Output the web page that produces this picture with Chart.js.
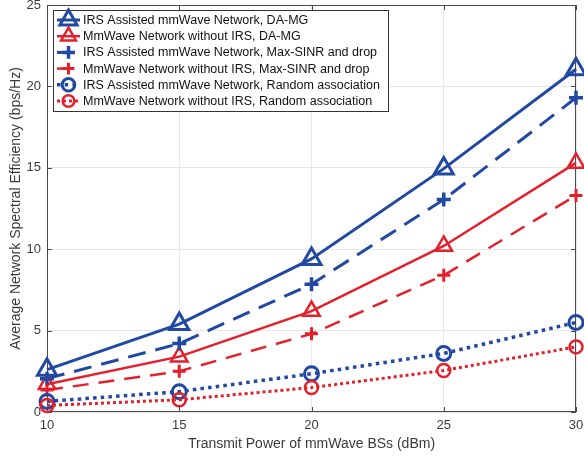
<!DOCTYPE html>
<html>
<head>
<meta charset="utf-8">
<script src="https://cdn.jsdelivr.net/npm/chart.js@4.4.0/dist/chart.umd.min.js"></script>
<style>
html,body{margin:0;padding:0;background:#fff;}
#wrap{width:584px;height:457px;position:relative;}
</style>
</head>
<body>
<div id="wrap"><canvas id="c" width="584" height="457"></canvas></div>
<script>
const powers = [10, 15, 20, 25, 30];
const xTicks = [10, 15, 20, 25, 30];
const yTicks = [0, 5, 10, 15, 20, 25];
const irsDAMG = [2.6, 5.4, 9.4, 14.95, 21.05];
const noIrsDAMG = [1.7, 3.4, 6.2, 10.2, 15.3];
const irsMaxSinr = [2.05, 4.2, 7.85, 13.05, 19.3];
const noIrsMaxSinr = [1.35, 2.5, 4.8, 8.4, 13.3];
const irsRandom = [0.65, 1.25, 2.35, 3.6, 5.5];
const noIrsRandom = [0.4, 0.75, 1.5, 2.55, 4.0];
const seriesLabels = [
  'IRS Assisted mmWave Network, DA-MG',
  'MmWave Network without IRS, DA-MG',
  'IRS Assisted mmWave Network, Max-SINR and drop',
  'MmWave Network without IRS, Max-SINR and drop',
  'IRS Assisted mmWave Network, Random association',
  'MmWave Network without IRS, Random association'
];

const BLUE = '#2148a3';
const RED = '#e3202b';
const FONT = "'Liberation Sans', Arial, Helvetica, sans-serif";

function pts(arr){ return arr.map((v,i)=>({x: powers[i], y: v})); }

const styles = [
  {data: irsDAMG, color: BLUE, lw: 3, dash: [], marker: 'triangle', r: 11, mlw: 3},
  {data: noIrsDAMG, color: RED, lw: 2.5, dash: [], marker: 'triangle', r: 9.5, mlw: 2.5},
  {data: irsMaxSinr, color: BLUE, lw: 3, dash: [18, 10], marker: 'cross', r: 7, mlw: 3.5},
  {data: noIrsMaxSinr, color: RED, lw: 2.5, dash: [16, 10], marker: 'cross', r: 6.5, mlw: 3},
  {data: irsRandom, color: BLUE, lw: 3.5, dash: [3.5, 4.2], marker: 'circle', r: 7, mlw: 3},
  {data: noIrsRandom, color: RED, lw: 3, dash: [3, 3], marker: 'circle', r: 6.5, mlw: 2.5}
];

const datasets = styles.map((s, i) => ({
  label: seriesLabels[i],
  data: pts(s.data),
  borderColor: s.color,
  borderWidth: s.lw,
  borderDash: s.dash,
  pointStyle: s.marker,
  pointRadius: s.r,
  pointHoverRadius: s.r,
  pointBorderWidth: s.mlw,
  pointBorderColor: s.color,
  pointBackgroundColor: 'rgba(0,0,0,0)',
  fill: false,
  tension: 0,
  clip: false,
  order: 6 - i
}));

function drawMarker(ctx, style, x, y, r) {
  ctx.beginPath();
  if (style === 'triangle') {
    let rad = 0;
    ctx.moveTo(x + Math.sin(rad) * r, y - Math.cos(rad) * r);
    rad += 2 * Math.PI / 3;
    ctx.lineTo(x + Math.sin(rad) * r, y - Math.cos(rad) * r);
    rad += 2 * Math.PI / 3;
    ctx.lineTo(x + Math.sin(rad) * r, y - Math.cos(rad) * r);
    ctx.closePath();
  } else if (style === 'cross') {
    ctx.moveTo(x - r, y); ctx.lineTo(x + r, y);
    ctx.moveTo(x, y - r); ctx.lineTo(x, y + r);
  } else {
    ctx.arc(x, y, r, 0, Math.PI * 2);
  }
  ctx.stroke();
}

const framePlugin = {
  id: 'frame',
  beforeDatasetsDraw(chart) {
    const ctx = chart.ctx, a = chart.chartArea;
    const xs = chart.scales.x, ys = chart.scales.y;
    ctx.save();
    ctx.strokeStyle = '#4a4a4a';
    ctx.lineWidth = 1;
    ctx.setLineDash([]);
    ctx.strokeRect(a.left + 0.5, a.top + 0.5, a.right - a.left - 1, a.bottom - a.top - 1);
    const tl = 5;
    ctx.beginPath();
    xTicks.forEach(v => {
      const px = Math.round(xs.getPixelForValue(v)) + 0.5;
      ctx.moveTo(px, a.bottom); ctx.lineTo(px, a.bottom - tl);
      ctx.moveTo(px, a.top); ctx.lineTo(px, a.top + tl);
    });
    yTicks.forEach(v => {
      const py = Math.round(ys.getPixelForValue(v)) + 0.5;
      ctx.moveTo(a.left, py); ctx.lineTo(a.left + tl, py);
      ctx.moveTo(a.right, py); ctx.lineTo(a.right - tl, py);
    });
    ctx.stroke();
    ctx.restore();
  },
  afterDraw(chart) {
    const ctx = chart.ctx;
    const bx = 53.5, by = 10.5, bw = 335, bh = 101;
    ctx.save();
    ctx.fillStyle = '#ffffff';
    ctx.fillRect(bx, by, bw, bh);
    ctx.strokeStyle = '#333333';
    ctx.lineWidth = 1;
    ctx.setLineDash([]);
    ctx.strokeRect(bx, by, bw, bh);
    const rowH = 16.2;
    ctx.font = '12.5px ' + FONT;
    ctx.textBaseline = 'middle';
    ctx.textAlign = 'left';
    chart.data.datasets.forEach((ds, i) => {
      const s = styles[i];
      const cy = by + 9.5 + i * rowH;
      ctx.strokeStyle = s.color;
      ctx.lineWidth = s.lw;
      ctx.setLineDash(s.dash);
      ctx.beginPath();
      ctx.moveTo(57, cy); ctx.lineTo(80, cy);
      ctx.stroke();
      ctx.setLineDash([]);
      ctx.lineWidth = s.mlw;
      drawMarker(ctx, s.marker, 68.5, cy, s.r * 0.9);
      ctx.fillStyle = '#111111';
      ctx.fillText(ds.label, 83, cy + 0.5);
    });
    ctx.restore();
  }
};

new Chart(document.getElementById('c'), {
  type: 'line',
  data: { datasets },
  options: {
    responsive: false,
    animation: false,
    devicePixelRatio: 1,
    layout: { autoPadding: false, padding: { top: 5, right: 8, left: 0, bottom: 0 } },
    plugins: { legend: { display: false }, tooltip: { enabled: false } },
    scales: {
      x: {
        type: 'linear',
        min: 10, max: 30,
        afterBuildTicks(scale) { scale.ticks = xTicks.map(v => ({value: v})); },
        afterFit(scale) { scale.height = 45; scale.paddingLeft = 0; scale.paddingRight = 0; },
        grid: { color: '#e8e8e8', drawTicks: false, lineWidth: 1 },
        border: { display: false },
        ticks: { color: '#3a3a3a', font: { family: FONT, size: 13 }, padding: 6, maxRotation: 0 },
        title: { display: true, text: 'Transmit Power of mmWave BSs (dBm)', color: '#3a3a3a',
                 font: { family: FONT, size: 14 }, padding: { top: 0, bottom: 4 } }
      },
      y: {
        type: 'linear',
        min: 0, max: 25,
        afterBuildTicks(scale) { scale.ticks = yTicks.map(v => ({value: v})); },
        afterFit(scale) { scale.width = 47; scale.paddingTop = 0; scale.paddingBottom = 0; },
        grid: { color: '#e8e8e8', drawTicks: false, lineWidth: 1 },
        border: { display: false },
        ticks: { color: '#3a3a3a', font: { family: FONT, size: 13 }, padding: 6 },
        title: { display: true, text: 'Average Network Spectral Efficiency (bps/Hz)', color: '#3a3a3a',
                 font: { family: FONT, size: 14 }, padding: { top: 8, bottom: 0 } }
      }
    }
  },
  plugins: [framePlugin]
});
</script>
</body>
</html>
